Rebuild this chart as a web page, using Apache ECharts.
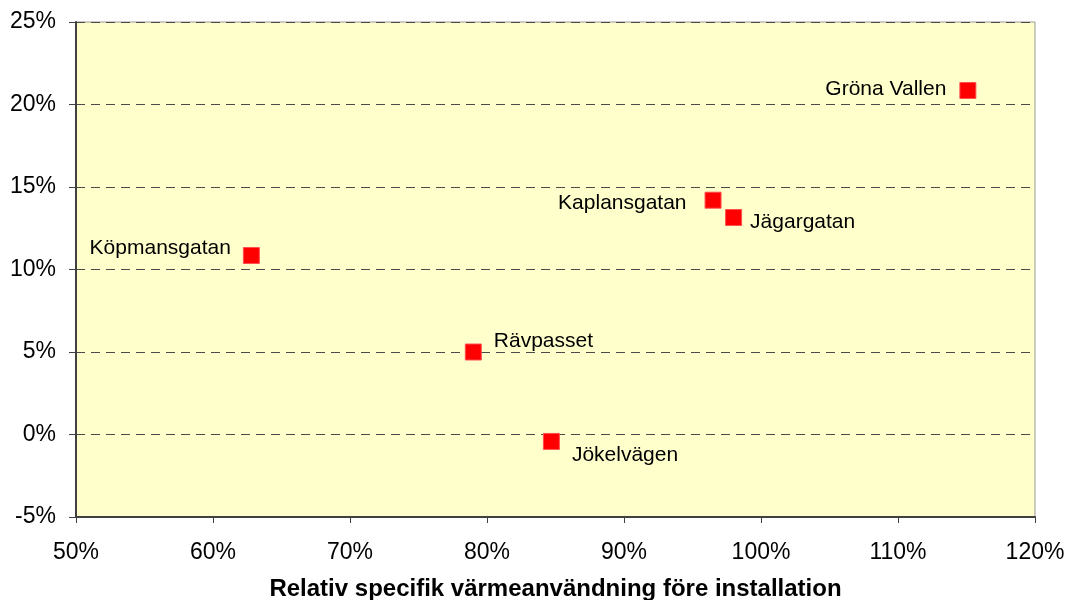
<!DOCTYPE html>
<html>
<head>
<meta charset="utf-8">
<script src="https://cdn.jsdelivr.net/npm/echarts@6/dist/echarts.min.js"></script>
<style>
  html, body { margin: 0; padding: 0; background: #fff; }
  #main { width: 1066px; height: 600px; }
</style>
</head>
<body>
<div id="main"></div>
<script>
// data (percent)
var names = ["Köpmansgatan", "Rävpasset", "Jökelvägen", "Kaplansgatan", "Jägargatan", "Gröna Vallen"];
var xValues = [62.8, 79.0, 84.7, 96.5, 98.0, 115.1];
var yValues = [10.85, 5.0, -0.42, 14.2, 13.15, 20.85];
var xTitle = "Relativ specifik värmeanvändning före installation";

// where each label sits relative to its marker
var labelPlace = {
  "Köpmansgatan": { position: "left", offset: [-7, -7] },
  "Rävpasset": { position: "right", offset: [7, -11] },
  "Jökelvägen": { position: "right", offset: [7, 14] },
  "Kaplansgatan": { position: "left", offset: [-13, 3] },
  "Jägargatan": { position: "right", offset: [3, 5] },
  "Gröna Vallen": { position: "left", offset: [-8, -1] }
};

var myChart = echarts.init(document.getElementById("main"));

var points = [];
for (var i = 0; i < names.length; i++) {
  var lp = labelPlace[names[i]];
  points.push({
    name: names[i],
    value: [xValues[i], yValues[i]],
    label: { position: lp.position, offset: lp.offset }
  });
}

var font = "Liberation Sans";

var option = {
  animation: false,
  grid: {
    left: 76,
    right: 31,
    top: 22,
    bottom: 83,
    containLabel: false,
    outerBoundsMode: "none",
    show: true,
    backgroundColor: "#FFFFCC",
    borderColor: "#9a9a9a",
    borderWidth: 1
  },
  xAxis: {
    type: "value",
    min: 50,
    max: 120,
    interval: 10,
    name: xTitle,
    nameLocation: "middle",
    nameGap: 60,
    nameTextStyle: {
      color: "#000",
      fontFamily: font,
      fontSize: 24,
      fontWeight: "bold"
    },
    axisLine: { show: true, onZero: false, lineStyle: { color: "#404040", width: 2 } },
    axisTick: { show: true, inside: false, length: 6, lineStyle: { color: "#404040", width: 1 } },
    axisLabel: {
      color: "#000",
      fontFamily: font,
      fontSize: 23,
      margin: 24,
      formatter: "{value}%"
    },
    splitLine: { show: false }
  },
  yAxis: {
    type: "value",
    min: -5,
    max: 25,
    interval: 5,
    axisLine: { show: true, onZero: false, lineStyle: { color: "#404040", width: 2 } },
    axisTick: { show: true, inside: false, length: 7, lineStyle: { color: "#404040", width: 1 } },
    axisLabel: {
      color: "#000",
      fontFamily: font,
      fontSize: 23,
      margin: 20,
      formatter: "{value}%"
    },
    splitLine: {
      show: true,
      lineStyle: { color: "#4a4a4a", type: [9, 6], width: 1 }
    }
  },
  series: [
    {
      type: "scatter",
      symbol: "rect",
      symbolSize: 16,
      data: points,
      itemStyle: { color: "#FF0000", borderColor: "#FF5050", borderWidth: 1, opacity: 1 },
      label: {
        show: true,
        formatter: "{b}",
        color: "#000",
        fontFamily: font,
        fontSize: 21
      }
    }
  ]
};

option && myChart.setOption(option);
</script>
</body>
</html>
